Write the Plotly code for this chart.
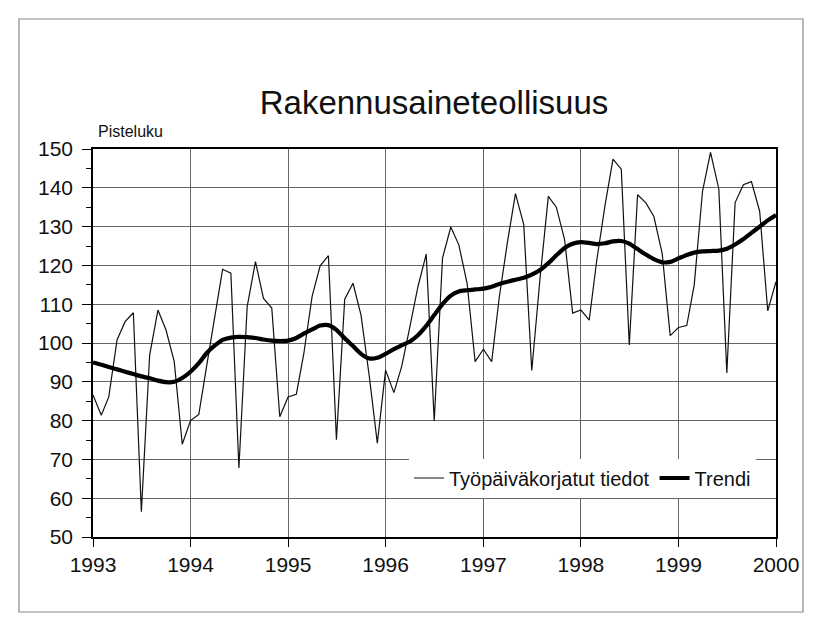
import pandas as pd
import plotly.graph_objects as go

months = pd.date_range("1993-01-01", periods=85, freq="MS")

tyopaivakorjatut = [
    86.6, 81.4, 86.1, 100.8, 105.5, 107.8, 56.5, 96.9, 108.5, 103.4, 95.2, 73.9,
    80.0, 81.6, 93.5, 106.4, 119.0, 118.0, 67.8, 109.4, 121.0, 111.5, 109.0, 81.0,
    86.1, 86.8, 97.3, 112.0, 119.9, 122.5, 75.1, 111.3, 115.4, 107.2, 91.4, 74.2,
    93.0, 87.2, 93.9, 104.2, 114.5, 122.9, 79.9, 121.9, 129.9, 125.3, 115.4, 95.2,
    98.4, 95.2, 111.6, 126.0, 138.5, 130.5, 92.9, 116.7, 137.8, 135.0, 126.6, 107.7,
    108.5, 105.9, 121.2, 135.4, 147.4, 144.8, 99.5, 138.2, 136.1, 132.6, 123.1, 101.9,
    104.0, 104.5, 115.0, 139.1, 149.1, 139.7, 92.3, 136.2, 140.8, 141.6, 133.9, 108.3,
    115.8,
]

trendi = [
    95.0, 94.4, 93.8, 93.2, 92.6, 92.0, 91.4, 90.9, 90.3, 89.9, 90.0, 91.0,
    92.6, 94.8, 97.3, 99.3, 100.8, 101.4, 101.6, 101.5, 101.3, 100.9, 100.6, 100.5,
    100.6, 101.3, 102.4, 103.5, 104.5, 104.6, 103.4, 101.2, 99.2, 97.2, 96.0, 96.2,
    97.2, 98.4, 99.4, 100.4, 102.0, 104.4, 107.2, 110.0, 112.2, 113.3, 113.6, 113.8,
    114.0, 114.5, 115.2, 115.8, 116.3, 116.8, 117.6, 118.8, 120.6, 122.6, 124.5, 125.6,
    126.0, 125.8, 125.5, 125.7, 126.2, 126.3, 125.6, 124.2, 122.8, 121.6, 120.8, 120.9,
    121.8, 122.7, 123.3, 123.6, 123.7, 123.8, 124.3, 125.4, 126.8, 128.4, 130.0, 131.6,
    133.0,
]

title_text = "Rakennusaineteollisuus"
y_label = "Pisteluku"
series_names = ["Työpäiväkorjatut tiedot", "Trendi"]

FONT = "Liberation Sans, Arial, Helvetica, sans-serif"

fig = go.Figure()
fig.add_trace(go.Scatter(x=months, y=tyopaivakorjatut, mode="lines", name=series_names[0],
                         line=dict(color="#111111", width=1.2)))
fig.add_trace(go.Scatter(x=months, y=trendi, mode="lines", name=series_names[1],
                         line=dict(color="#000000", width=4.2, shape="spline", smoothing=0.6)))

# page body has an 8px margin, so the figure is drawn 8px in from the window corner
OFF = 8
W, H = 819 - OFF, 633 - OFF
PL, PR, PT, PB = 93, 776, 149, 537          # plot area in window pixels
L, T = PL - OFF, PT - OFF
pw, ph = PR - PL, PB - PT
R, B = W - L - pw, H - T - ph

def px2x(px):
    return (px - PL) / pw

def py2y(py):
    return (PB - py) / ph

fig.update_layout(
    width=W, height=H,
    margin=dict(l=L, r=R, t=T, b=B, autoexpand=False),
    paper_bgcolor="white", plot_bgcolor="white",
    font=dict(family=FONT, color="#111111"),
    title=dict(text=title_text, x=(434 - OFF) / W, xanchor="center",
               y=1 - (102 - OFF) / H, yanchor="middle",
               font=dict(size=33, family=FONT, color="#111111")),
    showlegend=True,
    legend=dict(orientation="h", x=px2x(756), xanchor="right", y=py2y(478), yanchor="middle",
                bgcolor="white", borderwidth=0, font=dict(size=20, family=FONT, color="#111111"),
                itemwidth=30, tracegroupgap=0),
    annotations=[dict(text=y_label, xref="paper", yref="paper", x=px2x(96), y=py2y(132),
                      xanchor="left", yanchor="middle", showarrow=False,
                      font=dict(size=16, family=FONT, color="#111111"))],
    shapes=[dict(type="rect", xref="paper", yref="paper",
                 x0=px2x(19), x1=px2x(803), y0=py2y(612), y1=py2y(19),
                 line=dict(color="#8a8a8a", width=1.2), fillcolor="rgba(0,0,0,0)", layer="below")],
)

fig.update_xaxes(
    range=["1993-01-01", "2000-01-01"], dtick="M12", tick0="1993-01-01", tickformat="%Y",
    showgrid=True, gridcolor="#666666", gridwidth=1,
    showline=True, linecolor="#000000", linewidth=1.5, mirror=True,
    ticks="outside", ticklen=8, tickcolor="#000000", tickwidth=1,
    tickfont=dict(size=21, family=FONT, color="#111111"), zeroline=False,
)
fig.update_yaxes(
    range=[50, 150], dtick=10, tick0=50,
    showgrid=True, gridcolor="#666666", gridwidth=1,
    showline=True, linecolor="#000000", linewidth=1.5, mirror=True,
    ticks="outside", ticklen=9, tickcolor="#000000", tickwidth=1, ticklabelstandoff=5,
    minor=dict(dtick=5, ticks="outside", ticklen=5, tickcolor="#000000", showgrid=False),
    tickfont=dict(size=21, family=FONT, color="#111111"), zeroline=False,
)

fig.write_html("out.html")
